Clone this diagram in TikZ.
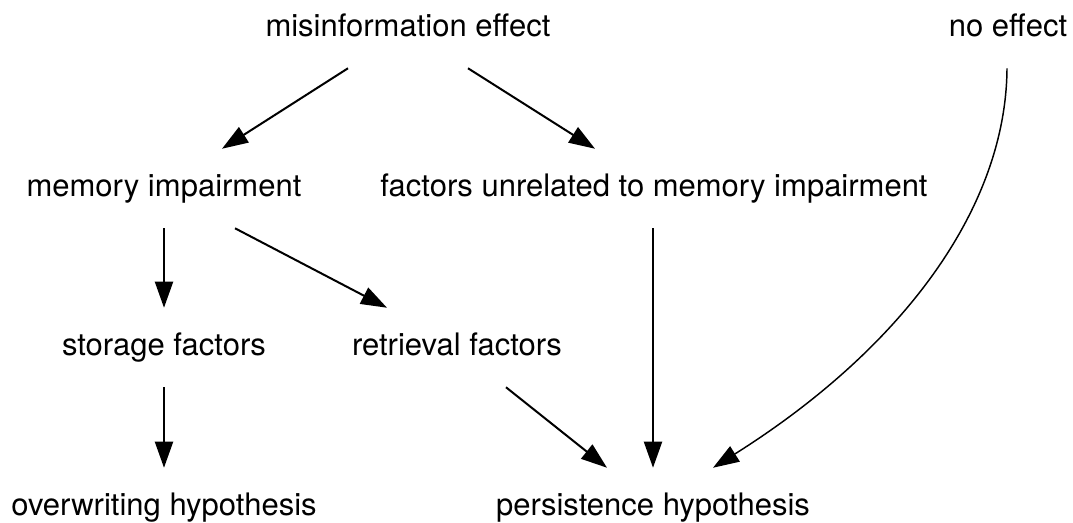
\documentclass[tikz,border=0pt]{standalone}
\usepackage{fontspec}
\setmainfont{TeX Gyre Heros}
\usetikzlibrary{arrows.meta,calc}
\begin{document}
\begin{tikzpicture}[x=0.75pt,y=-0.75pt,
  lbl/.style={anchor=base, inner xsep=0pt, inner ysep=18pt,
    text height=17.25pt, text depth=6pt,
    font=\fontsize{23.25}{28}\selectfont},
  link/.style={-{Triangle[length=19.5pt,width=13.5pt]}, line width=1.5pt},
  curvelink/.style={-{Triangle[length=19.5pt,width=13.5pt]}, line width=1.1pt}]
\useasboundingbox (0,0) rectangle (1073,522);

% top row
\node[lbl] (mis)   at (408,36)  {misinformation effect};
\node[lbl] (noeff) at (1008,36) {no effect};
% second row
\node[lbl] (mem)   at (164,196) {memory impairment};
\node[lbl] (unrel) at (654,196) {factors unrelated to memory impairment};
% third row
\node[lbl] (stor)  at (164,355) {storage factors};
\node[lbl] (retr)  at (457,355) {retrieval factors};
% hypotheses
\node[lbl] (over)  at (164,515) {overwriting hypothesis};
\node[lbl] (pers)  at (653,515) {persistence hypothesis};

% connectors
\draw[link] ($(mis.south)+(-60,0)$) -- ($(mem.north)+(58,0)$);
\draw[link] ($(mis.south)+(60,0)$) -- ($(unrel.north)+(-59,0)$);
\draw[link] (mem.south) -- (stor.north);
\draw[link] ($(mem.south)+(71,0)$) -- ($(retr.north)+(-70,0)$);
\draw[link] (stor.south) -- (over.north);
\draw[link] ($(retr.south)+(49,0)$) -- ($(pers.north)+(-46,0)$);
\draw[link] ($(unrel.south)+(-1,0)$) -- (pers.north);
\draw[curvelink] ($(noeff.south)+(-1,0)$) .. controls (1006,210) and (900,350) .. ($(pers.north)+(60,0)$);
\end{tikzpicture}
\end{document}
